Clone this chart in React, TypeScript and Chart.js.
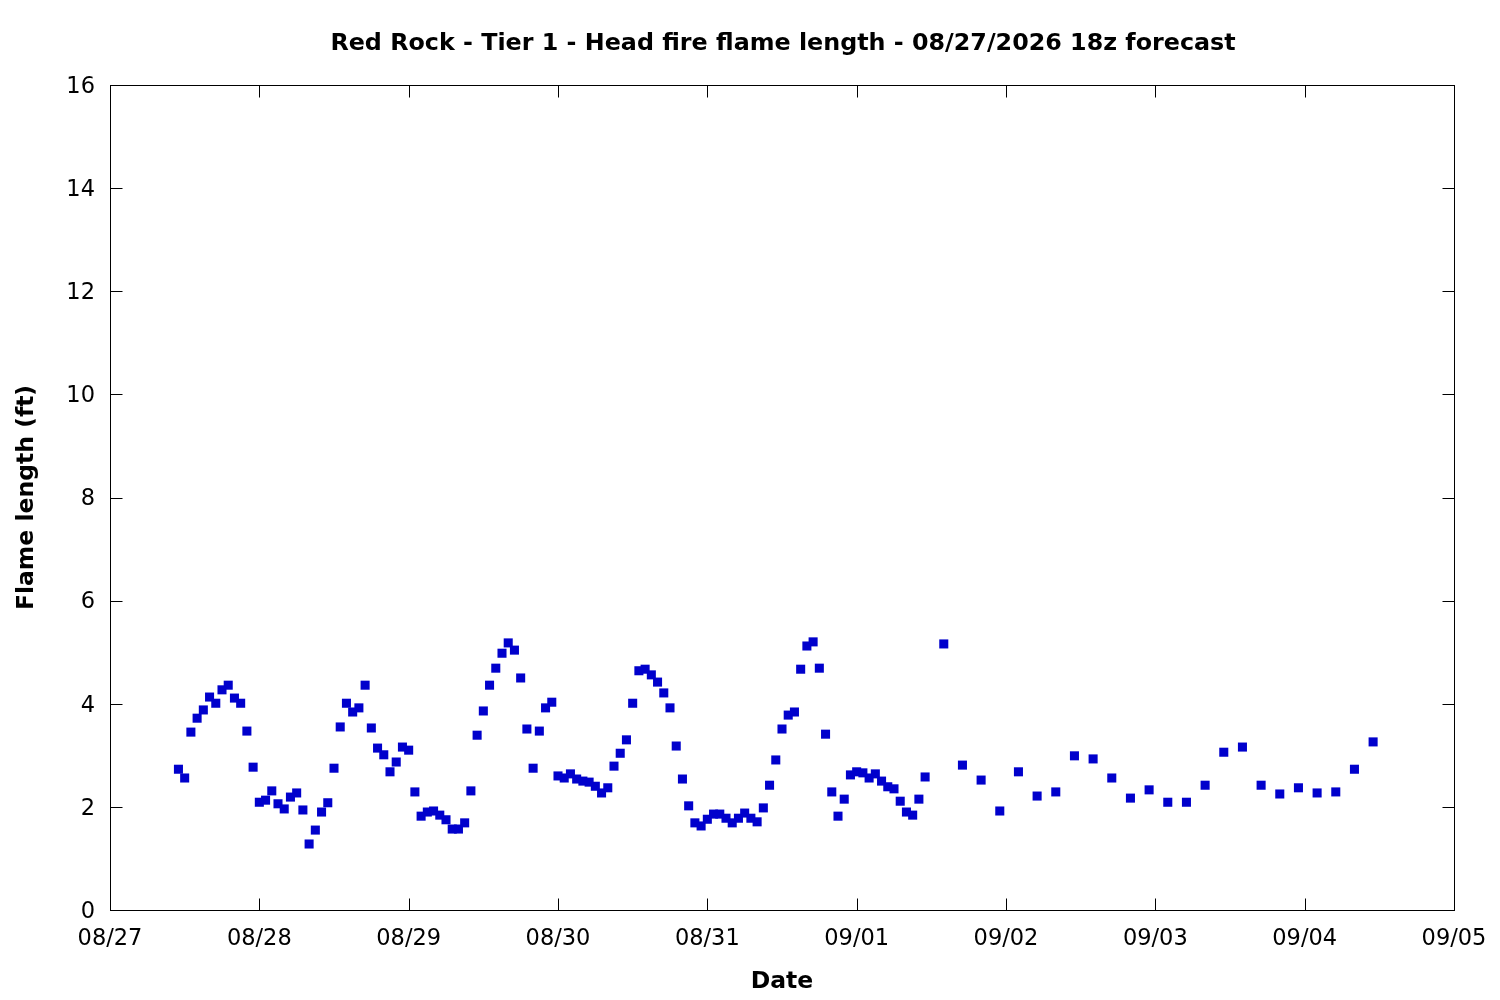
import React, { useEffect, useRef } from "react";
import { Chart, registerables } from "chart.js";

Chart.register(...registerables);

const TITLE = "Red Rock - Tier 1 - Head fire flame length - 08/27/2026 18z forecast";
const X_TITLE = "Date";
const Y_TITLE = "Flame length (ft)";

// x tick labels: one per day, starting 08/27 00:00 (hour 0)
const DATE_LABELS = ["08/27", "08/28", "08/29", "08/30", "08/31", "09/01", "09/02", "09/03", "09/04", "09/05"];

// hours since 08/27 00:00 for the hourly part of the forecast
const HOURLY_HOURS = [
  11, 12, 13, 14, 15, 16, 17, 18, 19, 20, 21, 22,
  23, 24, 25, 26, 27, 28, 29, 30, 31, 32, 33, 34,
  35, 36, 37, 38, 39, 40, 41, 42, 43, 44, 45, 46,
  47, 48, 49, 50, 51, 52, 53, 54, 55, 56, 57, 58,
  59, 60, 61, 62, 63, 64, 65, 66, 67, 68, 69, 70,
  71, 72, 73, 74, 75, 76, 77, 78, 79, 80, 81, 82,
  83, 84, 85, 86, 87, 88, 89, 90, 91, 92, 93, 94,
  95, 96, 97, 98, 99, 100, 101, 102, 103, 104, 105, 106,
  107, 108, 109, 110, 111, 112, 113, 114, 115, 116, 117, 118,
  119, 120, 121, 122, 123, 124, 125, 126, 127, 128, 129, 130,
  131,
];

// flame length (ft), hourly
const HOURLY_VALUES = [
  2.73, 2.56, 3.45, 3.72, 3.88, 4.13, 4.01, 4.27, 4.36, 4.11, 4.01, 3.47,
  2.77, 2.09, 2.13, 2.31, 2.06, 1.96, 2.19, 2.27, 1.94, 1.28, 1.55, 1.90,
  2.08, 2.75, 3.55, 4.01, 3.84, 3.92, 4.36, 3.53, 3.14, 3.01, 2.68, 2.87,
  3.16, 3.10, 2.29, 1.82, 1.90, 1.92, 1.84, 1.75, 1.57, 1.57, 1.69, 2.31,
  3.39, 3.86, 4.36, 4.69, 4.98, 5.18, 5.04, 4.50, 3.51, 2.75, 3.47, 3.92,
  4.03, 2.60, 2.56, 2.64, 2.54, 2.50, 2.48, 2.40, 2.27, 2.37, 2.79, 3.04,
  3.30, 4.01, 4.64, 4.67, 4.56, 4.42, 4.21, 3.92, 3.18, 2.54, 2.02, 1.69,
  1.63, 1.76, 1.86, 1.86, 1.78, 1.69, 1.78, 1.88, 1.78, 1.71, 1.98, 2.42,
  2.91, 3.51, 3.78, 3.84, 4.67, 5.12, 5.20, 4.69, 3.41, 2.29, 1.82, 2.15,
  2.62, 2.68, 2.66, 2.56, 2.64, 2.50, 2.39, 2.35, 2.11, 1.90, 1.84, 2.15,
  2.58,
];

// hours since 08/27 00:00 for the 3-hourly part
const THREE_HOURLY_HOURS = [
  134, 137, 140, 143, 146, 149, 152, 155, 158, 161, 164, 167,
  170, 173, 176, 179, 182, 185, 188, 191, 194, 197, 200, 203,
];

// flame length (ft), 3-hourly
const THREE_HOURLY_VALUES = [
  5.16, 2.81, 2.52, 1.92, 2.68, 2.21, 2.29, 2.99, 2.93, 2.56, 2.17, 2.33,
  2.09, 2.09, 2.42, 3.06, 3.16, 2.42, 2.25, 2.37, 2.27, 2.29, 2.73, 3.26,
];

const Y_MIN = 0;
const Y_MAX = 16;
const Y_STEP = 2;

const FONT = "'DejaVu Sans', 'Liberation Sans', sans-serif";

const framePlugin = {
  id: "gnuplotFrame",
  afterDatasetsDraw(chart: any) {
    const { ctx, chartArea: a, scales } = chart;
    const L = Math.round(a.left) + 0.5;
    const R = Math.round(a.right) + 0.5;
    const T = Math.round(a.top) + 0.5;
    const B = Math.round(a.bottom) + 0.5;
    const len = 12;
    ctx.save();
    ctx.strokeStyle = "#000";
    ctx.lineWidth = 1;
    ctx.beginPath();
    for (const t of scales.x.ticks) {
      const px = Math.round(scales.x.getPixelForValue(t.value)) + 0.5;
      ctx.moveTo(px, B);
      ctx.lineTo(px, B - len);
      ctx.moveTo(px, T);
      ctx.lineTo(px, T + len);
    }
    for (const t of scales.y.ticks) {
      const py = Math.round(scales.y.getPixelForValue(t.value)) + 0.5;
      ctx.moveTo(L, py);
      ctx.lineTo(L + len, py);
      ctx.moveTo(R, py);
      ctx.lineTo(R - len, py);
    }
    ctx.stroke();
    ctx.strokeRect(L, T, R - L, B - T);
    // title centred over the plot area
    ctx.fillStyle = "#000";
    ctx.font = `bold 23.8px ${FONT}`;
    ctx.textAlign = "center";
    ctx.textBaseline = "middle";
    ctx.fillText(TITLE, (a.left + a.right) / 2 + 1, 44);
    ctx.restore();
  },
};

export default function App() {
  const canvasRef = useRef<HTMLCanvasElement | null>(null);

  useEffect(() => {
    if (!canvasRef.current) return;
    const points = [
      ...HOURLY_HOURS.map((h, i) => ({ x: h, y: HOURLY_VALUES[i] })),
      ...THREE_HOURLY_HOURS.map((h, i) => ({ x: h, y: THREE_HOURLY_VALUES[i] })),
    ];
    const chart = new Chart(canvasRef.current, {
      type: "scatter",
      data: {
        datasets: [
          {
            label: "Flame length",
            data: points,
            pointStyle: "rect",
            pointRadius: 6.4,
            pointHoverRadius: 6.4,
            pointBackgroundColor: "rgb(0,0,204)",
            pointBorderColor: "rgb(0,0,204)",
            pointBorderWidth: 0,
            showLine: false,
          },
        ],
      },
      options: {
        animation: false,
        responsive: true,
        maintainAspectRatio: false,
        devicePixelRatio: 1,
        layout: { padding: { top: 85, right: 46, left: 0, bottom: 0 } },
        plugins: {
          legend: { display: false },
          tooltip: { enabled: false },
          title: { display: false },
        },
        scales: {
          x: {
            type: "linear",
            min: 0,
            max: (DATE_LABELS.length - 1) * 24,
            grid: { display: false, drawTicks: false },
            border: { display: false },
            afterFit: (scale: any) => {
              scale.height = 90;
              scale.paddingLeft = 0;
              scale.paddingRight = 0;
            },
            ticks: {
              stepSize: 24,
              padding: 16,
              color: "#000",
              maxRotation: 0,
              autoSkip: false,
              font: { family: FONT, size: 22.5 },
              callback: (_v: any, i: number) => DATE_LABELS[i],
            },
            title: {
              display: true,
              text: X_TITLE,
              color: "#000",
              font: { family: FONT, size: 23.5, weight: "bold" },
              padding: { top: 0, bottom: 4 },
            },
          },
          y: {
            type: "linear",
            min: Y_MIN,
            max: Y_MAX,
            grid: { display: false, drawTicks: false },
            border: { display: false },
            afterFit: (scale: any) => {
              scale.width = 110;
              scale.paddingTop = 0;
              scale.paddingBottom = 0;
            },
            ticks: {
              stepSize: Y_STEP,
              padding: 15,
              labelOffset: 2,
              color: "#000",
              font: { family: FONT, size: 22.5 },
            },
            title: {
              display: true,
              text: Y_TITLE,
              color: "#000",
              font: { family: FONT, size: 23.5, weight: "bold" },
              padding: { top: 13, bottom: 0 },
            },
          },
        },
      },
      plugins: [framePlugin],
    });
    return () => chart.destroy();
  }, []);

  return (
    <div style={{ position: "fixed", left: 0, top: 0, width: 1500, height: 1000, background: "#fff" }}>
      <canvas ref={canvasRef} />
    </div>
  );
}
